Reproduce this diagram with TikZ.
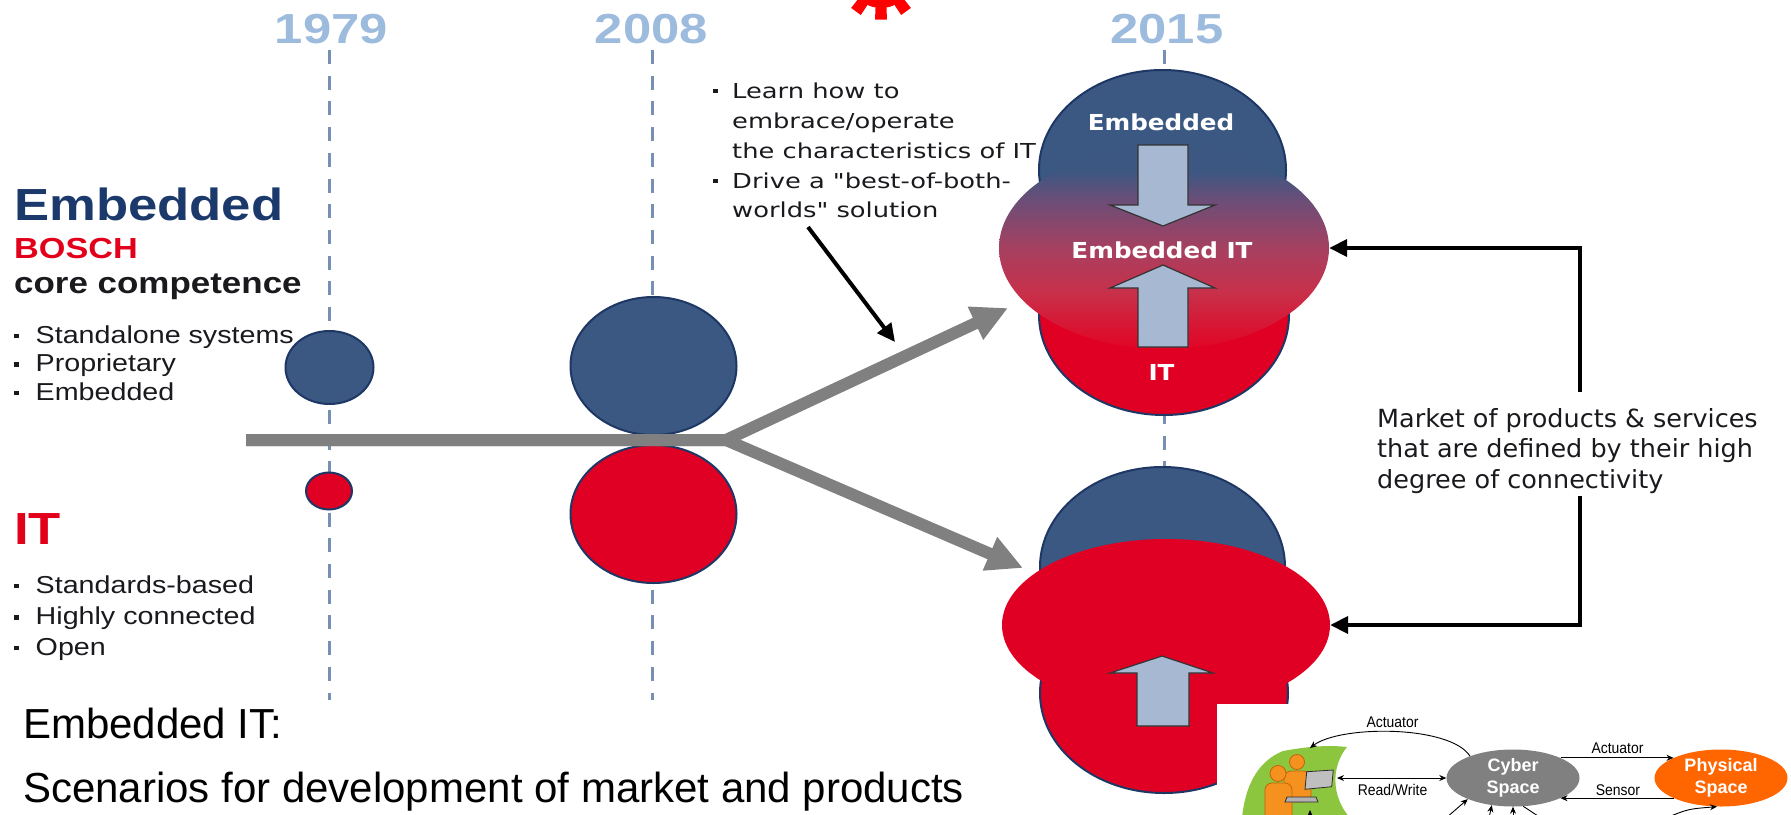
\documentclass[tikz,border=0pt]{standalone}
\usepackage{fontspec}
\usepackage{graphicx}
\setmainfont{Liberation Sans}
\newfontfamily\dejavu{DejaVu Sans}
\usetikzlibrary{arrows.meta,shapes.geometric}

\definecolor{navyfill}{RGB}{58,88,130}
\definecolor{navyline}{RGB}{30,55,100}
\definecolor{itred}{RGB}{224,0,36}
\definecolor{yearblue}{RGB}{157,187,221}
\definecolor{dashblue}{RGB}{118,144,180}
\definecolor{bargray}{RGB}{128,128,128}
\definecolor{arrowfill}{RGB}{167,185,210}
\definecolor{titlenavy}{RGB}{27,58,107}
\definecolor{boschred}{RGB}{226,0,26}
\definecolor{textdark}{RGB}{26,26,30}
\definecolor{leafgreen}{RGB}{140,198,63}
\definecolor{cybergray}{RGB}{128,128,128}
\definecolor{physorange}{RGB}{255,102,0}
\definecolor{personorange}{RGB}{245,145,30}
\definecolor{personline}{RGB}{196,98,10}
\definecolor{gearred}{RGB}{255,0,0}
\definecolor{mixtop}{RGB}{60,87,130}
\definecolor{mixupper}{RGB}{106,78,120}
\definecolor{mixmid}{RGB}{166,64,96}
\definecolor{mixlower}{RGB}{200,48,74}
\definecolor{mixbot}{RGB}{226,4,36}

% blue-to-red blend of the "Embedded IT" field (0bp = bottom, 25..75bp = shape extent)
\pgfdeclareverticalshading{eitshade}{100bp}{color(0bp)=(mixbot); color(25bp)=(mixbot);
  color(39bp)=(mixlower); color(50bp)=(mixmid); color(62bp)=(mixupper);
  color(69bp)=(mixtop); color(75bp)=(mixtop); color(100bp)=(mixtop)}

% helpers: horizontal stretch, font size, square bullet
\newcommand{\hsx}[2]{\scalebox{#1}[1]{#2}}
\newcommand{\fsz}[1]{\fontsize{#1}{#1}\selectfont}
\newcommand{\bulsq}{\raisebox{5pt}{\rule{4.5pt}{4.5pt}}}

\begin{document}
\begin{tikzpicture}[x=1pt,y=-1pt,
  yearline/.style={draw=dashblue, line width=3pt, dash pattern=on 14pt off 11.7pt},
  navydisc/.style={ellipse, draw=navyline, line width=2pt, fill=navyfill, inner sep=0pt},
  reddisc/.style={ellipse, draw=navyline, line width=2pt, fill=itred, inner sep=0pt},
  txt/.style={inner sep=0pt, anchor=base west},
  ctxt/.style={inner sep=0pt, anchor=base},
  trend/.style={draw=bargray, line width=12pt, -{Triangle[length=36pt,width=34pt]}},
  blockarrow/.style={fill=arrowfill, draw=black!80, line width=1.2pt},
  pointer/.style={draw=black, line width=4pt, -{Triangle[length=18pt,width=17pt]}},
  insetarrow/.style={draw=black, line width=0.9pt, -{Stealth[length=7pt,width=6pt]}},
  insetboth/.style={draw=black, line width=0.9pt, {Stealth[length=7pt,width=6pt]}-{Stealth[length=7pt,width=6pt]}},
  insetlabel/.style={ctxt, font=\fsz{15.5}},
  spacenode/.style={ellipse, inner sep=0pt, minimum width=133pt, minimum height=57pt,
    text=white, align=center, font=\bfseries\fontsize{18}{22}\selectfont}
]
\useasboundingbox (0,0) rectangle (1791,814);
\clip (0,0) rectangle (1791,814);

% ---------- year labels and dashed time lines ----------
\node[ctxt, text=yearblue] (y1979) at (331.5,43) {\bfseries\fsz{42}\hsx{1.21}{1979}};
\node[ctxt, text=yearblue] (y2008) at (651.5,43) {\bfseries\fsz{42}\hsx{1.21}{2008}};
\node[ctxt, text=yearblue] (y2015) at (1167,43) {\bfseries\fsz{42}\hsx{1.21}{2015}};
\draw[yearline] (329,50) -- (329,700);
\draw[yearline] (652,50) -- (652,700);
\draw[yearline] (1164,50) -- (1164,700);

% ---------- 1979 and 2008 discs ----------
\node[navydisc, minimum width=88pt, minimum height=73pt] (emb79) at (329.5,367.5) {};
\node[reddisc, minimum width=46pt, minimum height=37pt] (it79) at (329,491) {};
\node[navydisc, minimum width=166pt, minimum height=138pt] (emb08) at (653.5,366) {};
\node[reddisc, minimum width=166pt, minimum height=138pt] (it08) at (653.5,514) {};

% ---------- 2015, upper scenario ----------
\node[navydisc, minimum width=247pt, minimum height=200pt] (emb15) at (1162.5,170) {};
\node[reddisc, minimum width=250pt, minimum height=200pt] (it15) at (1164,315) {};
\node[ellipse, inner sep=0pt, minimum width=330pt, minimum height=202pt,
      shade, shading=eitshade] (eit15) at (1164,248) {};
\fill[blockarrow] (1138,145) -- (1188,145) -- (1188,205) -- (1215,205) -- (1163,226)
  -- (1110,205) -- (1138,205) -- cycle;
\fill[blockarrow] (1138,347) -- (1188,347) -- (1188,288) -- (1215,288) -- (1163,265)
  -- (1110,288) -- (1138,288) -- cycle;
\node[ctxt, text=white] (lblEmb) at (1161,130) {\dejavu\bfseries\fsz{22}\hsx{1.12}{Embedded}};
\node[ctxt, text=white] (lblEit) at (1162,258) {\dejavu\bfseries\fsz{22}\hsx{1.12}{Embedded IT}};
\node[ctxt, text=white] (lblIt) at (1161.5,380) {\dejavu\bfseries\fsz{22}\hsx{1.12}{IT}};

% ---------- 2015, lower scenario ----------
\node[navydisc, minimum width=245pt, minimum height=200pt] (emb15b) at (1162.5,567) {};
\node[reddisc, minimum width=248pt, minimum height=200pt] (it15b) at (1164,693) {};
\node[ellipse, fill=itred, inner sep=0pt, minimum width=328pt, minimum height=172pt] (eit15b) at (1166,625) {};
\fill[blockarrow] (1137,726) -- (1189,726) -- (1189,673) -- (1213,673) -- (1162,656)
  -- (1110,673) -- (1137,673) -- cycle;

% ---------- trend line and fork ----------
\coordinate (barstart) at (246,440);
\coordinate (fork) at (726,440);
\coordinate (upTip) at (1008,308);
\coordinate (downTip) at (1023,568);
\draw[trend] (barstart) -- (fork) -- (upTip);
\draw[trend] (barstart) -- (fork) -- (downTip);

% ---------- left-hand texts ----------
\node[txt, text=titlenavy] (embTitle) at (14,220) {\bfseries\fsz{45}\hsx{1.17}{Embedded}};
\node[txt, text=boschred] (bosch) at (14,258) {\bfseries\fsz{29}\hsx{1.18}{BOSCH}};
\node[txt, text=textdark] (core) at (14,293) {\bfseries\fsz{30}\hsx{1.165}{core competence}};
\node[txt, text=textdark] (eb1) at (14,343) {\fsz{24.5}\bulsq\hspace{17pt}\hsx{1.17}{Standalone systems}};
\node[txt, text=textdark] (eb2) at (14,371.5) {\fsz{24.5}\bulsq\hspace{17pt}\hsx{1.17}{Proprietary}};
\node[txt, text=textdark] (eb3) at (14,400) {\fsz{24.5}\bulsq\hspace{17pt}\hsx{1.17}{Embedded}};
\node[txt, text=boschred] (itTitle) at (14,544) {\bfseries\fsz{45}\hsx{1.17}{IT}};
\node[txt, text=textdark] (it1) at (14,593) {\fsz{24.5}\bulsq\hspace{17pt}\hsx{1.17}{Standards-based}};
\node[txt, text=textdark] (it2) at (14,624.5) {\fsz{24.5}\bulsq\hspace{17pt}\hsx{1.17}{Highly connected}};
\node[txt, text=textdark] (it3) at (14,655) {\fsz{24.5}\bulsq\hspace{17pt}\hsx{1.17}{Open}};

\node[txt] (capA) at (23,738) {\fsz{42}Embedded IT:};
\node[txt] (capB) at (23,802) {\fsz{42}Scenarios for development of market and products};

% ---------- strategy notes ----------
\node[txt, text=textdark] (l1) at (713,98) {\dejavu\fsz{20.6}\bulsq\hspace{14.5pt}\hsx{1.25}{Learn how to}};
\node[txt, text=textdark] (l2) at (732,128) {\dejavu\fsz{20.6}\hsx{1.25}{embrace/operate}};
\node[txt, text=textdark] (l3) at (732,158) {\dejavu\fsz{20.6}\hsx{1.25}{the characteristics of IT}};
\node[txt, text=textdark] (l4) at (713,188) {\dejavu\fsz{20.6}\bulsq\hspace{14.5pt}\hsx{1.25}{Drive a "best-of-both-}};
\node[txt, text=textdark] (l5) at (732,217) {\dejavu\fsz{20.6}\hsx{1.25}{worlds" solution}};
\coordinate (ptrStart) at (808,227);
\coordinate (ptrEnd) at (895,342);
\draw[pointer] (ptrStart) -- (ptrEnd);

\node[txt, text=textdark] (m1) at (1377,427) {\dejavu\fsz{25}\hsx{1.02}{Market of products \& services}};
\node[txt, text=textdark] (m2) at (1377,457) {\dejavu\fsz{25}\hsx{1.02}{that are defined by their high}};
\node[txt, text=textdark] (m3) at (1377,488) {\dejavu\fsz{25}\hsx{1.02}{degree of connectivity}};
\coordinate (mkTop) at (1580,392);
\coordinate (mkBot) at (1580,496);
\draw[pointer] (mkTop) |- (eit15.east);
\draw[pointer] (mkBot) |- (eit15b.east);

% ---------- cyber-physical inset ----------
\fill[white] (1217,704) rectangle (1791,816);
\fill[leafgreen] (1283,751) .. controls (1310,746) and (1330,745) .. (1347,747)
  .. controls (1332,765) and (1330,795) .. (1350,818) -- (1242,818)
  .. controls (1245,788) and (1256,762) .. (1283,751) -- cycle;
% users with laptop
\filldraw[fill=personorange, draw=personline, line width=0.8pt] (1297,762) circle (7.5);
\filldraw[fill=personorange, draw=personline, line width=0.8pt, rounded corners=7pt] (1284,771) rectangle (1311,802);
\filldraw[fill=gray!50, draw=gray!35!black, line width=0.8pt] (1306.7,771.7) -- (1333.3,770) -- (1331.7,786.7) -- (1305,789.3) -- cycle;
\filldraw[fill=personorange, draw=personline, line width=0.8pt] (1278,773.5) circle (8);
\filldraw[fill=personorange, draw=personline, line width=0.8pt, rounded corners=7pt] (1265,783) rectangle (1292,822);
\filldraw[fill=gray!60, draw=gray!35!black, line width=0.8pt] (1287,797) -- (1316,797) -- (1318,802) -- (1285,802) -- cycle;

\node[spacenode, fill=cybergray] (cyber) at (1513,778) {Cyber\\Space};
\node[spacenode, fill=physorange] (phys) at (1721,778) {Physical\\Space};
\coordinate (gAct) at (1310,748);
\coordinate (gRw) at (1337,778);

\draw[insetarrow] (cyber.153) .. controls (1450,725) and (1340,725) .. (gAct);
\draw[insetboth] (gRw) -- (cyber.west);
\draw[insetarrow] (cyber.23) -- (phys.157);
\draw[insetarrow] (phys.203) -- (cyber.337);
\node[insetlabel] (lblAct1) at (1392.5,727) {\hsx{0.9}{Actuator}};
\node[insetlabel] (lblRw) at (1392.5,795) {\hsx{0.9}{Read/Write}};
\node[insetlabel] (lblAct2) at (1617.5,753) {\hsx{0.9}{Actuator}};
\node[insetlabel] (lblSen) at (1618,795) {\hsx{0.9}{Sensor}};

% connectors entering from below the frame
\coordinate (f1) at (1446,818);
\coordinate (f2) at (1489,818);
\coordinate (f3) at (1513,818);
\coordinate (f4) at (1541,818);
\coordinate (f5) at (1666,818);
\coordinate (f6) at (1310,818);
\draw[insetarrow] (f1) -- (cyber.205);
\draw[insetarrow] (f2) -- (cyber.232);
\draw[insetarrow] (f3) -- (cyber.south);
\draw[draw=black, line width=0.9pt] (cyber.290) -- (f4);
\draw[insetarrow] (f5) .. controls (1688,809) .. (phys.262);
\draw[insetarrow] (f6) -- (1310,810);

% ---------- gear at the top edge ----------
\fill[gearred] (881,-23) circle (31);
\foreach \a in {0,36,...,324}{
  \fill[gearred] ({881+28*sin(\a-11)},{-23+28*cos(\a-11)}) -- ({881+43*sin(\a-8)},{-23+43*cos(\a-8)})
    -- ({881+43*sin(\a+8)},{-23+43*cos(\a+8)}) -- ({881+28*sin(\a+11)},{-23+28*cos(\a+11)}) -- cycle;
}
\end{tikzpicture}
\end{document}
